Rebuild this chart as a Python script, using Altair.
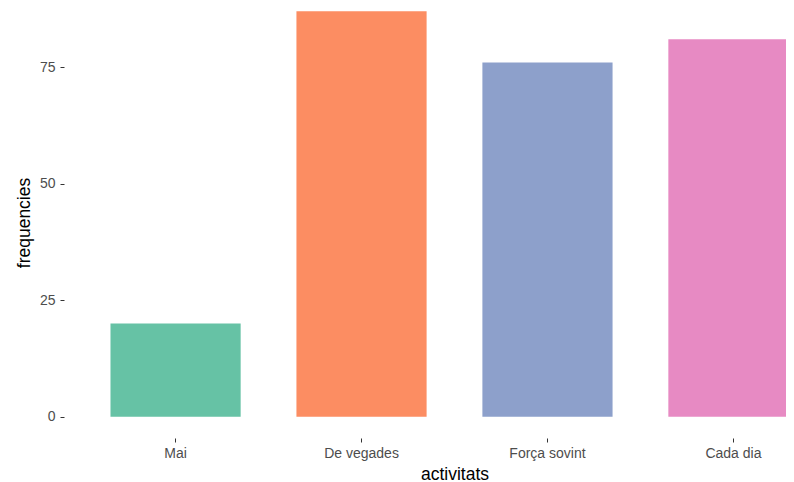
import altair as alt
import pandas as pd

categories = ["Mai", "De vegades", "Força sovint", "Cada dia"]
values = [20, 87, 76, 81]
colors = ["#66C2A5", "#FC8D62", "#8DA0CB", "#E78AC3"]
y_ticks = [0, 25, 50, 75]

df = pd.DataFrame({"activitats": categories, "frequencies": values})

W, H = 722, 429

chart = alt.Chart(df).mark_bar(clip=True).encode(
    x=alt.X("activitats:N", sort=categories,
            scale=alt.Scale(range=[0, 781], paddingInner=0.3, paddingOuter=0.25),
            axis=alt.Axis(title="activitats", labelAngle=0, domain=False, grid=False,
                          ticks=True, tickSize=4, tickColor="#333333", tickWidth=1,
                          labelColor="#4D4D4D", labelFontSize=14, labelPadding=4,
                          labelFont="Liberation Sans", titleFont="Liberation Sans",
                          titleFontSize=17.5, titleFontWeight="normal", titleColor="#000000",
                          titlePadding=5, offset=1)),
    y=alt.Y("frequencies:Q",
            scale=alt.Scale(domain=[-4.35, 87.68], nice=False, zero=False),
            axis=alt.Axis(title="frequencies", values=y_ticks, domain=False, grid=False,
                          ticks=True, tickSize=4, tickColor="#333333", tickWidth=1,
                          labelColor="#4D4D4D", labelFontSize=14, labelPadding=5,
                          labelFont="Liberation Sans", titleFont="Liberation Sans",
                          titleFontSize=17.5, titleFontWeight="normal", titleColor="#000000",
                          titlePadding=6)),
    y2=alt.Y2(datum=0),
    color=alt.Color("activitats:N", sort=categories,
                    scale=alt.Scale(domain=categories, range=colors), legend=None),
).properties(
    width=W, height=H,
    autosize=alt.AutoSizeParams(type="none"),
    padding={"left": 56, "top": 0, "right": 0, "bottom": 46},
).configure_view(stroke=None)

chart.save("out.html", embed_options={"renderer": "svg", "actions": False})
